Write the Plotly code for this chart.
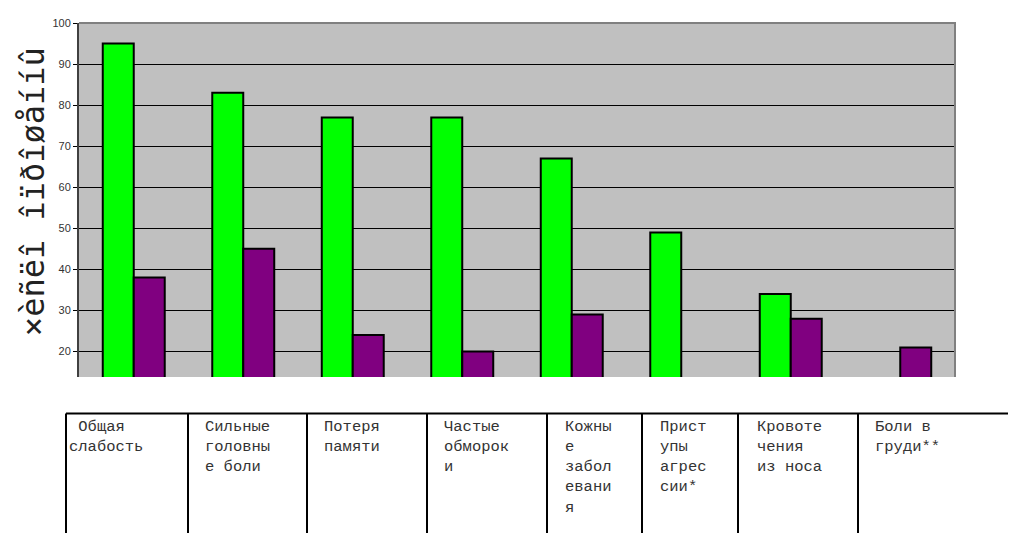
import plotly.graph_objects as go

categories = ["Общая слабость", "Сильные головные боли", "Потеря памяти", "Частые обмороки",
              "Кожные заболевания", "Приступы агрессии*", "Кровотечения из носа", "Боли в груди**"]
table_labels = [" Общая<br>слабость", "Сильные<br>головны<br>е боли", "Потеря<br>памяти",
                "Частые<br>обморок<br>и", "Кожны<br>е<br>забол<br>евани<br>я", "Прист<br>упы<br>агрес<br>сии*",
                "Кровоте<br>чения<br>из носа", "Боли в<br>груди**"]
series_green = [95, 83, 77, 77, 67, 49, 34, None]
series_purple = [38, 45, 24, 20, 29, None, 28, 21]
y_title = "×èñëî îïðîøåííû"
tick_vals = [20, 30, 40, 50, 60, 70, 80, 90, 100]

OFF = 8  # page body margin
W, H = 1016 - OFF, 533 - OFF
L, R, T, B = 79 - OFF, 955 - OFF, 17 - OFF, 377 - OFF
pw, ph = R - L, B - T

def px(x):
    return (x - OFF - L) / pw

def py(y):
    return (B - (y - OFF)) / ph

fig = go.Figure()
fig.add_trace(go.Bar(x=categories, y=series_green, marker=dict(color="#00FF00", line=dict(color="black", width=2)),
                     showlegend=False))
fig.add_trace(go.Bar(x=categories, y=series_purple, marker=dict(color="#800080", line=dict(color="black", width=2)),
                     showlegend=False))

shapes = []
shapes.append(dict(type="path", xref="paper", yref="paper", path="M 0 1 L 1 1 L 1 0",
                   line=dict(color="#808080", width=2), layer="above"))
col_lines = [66, 188, 307, 427, 547, 642, 738, 858]
table_top = 414
shapes.append(dict(type="line", xref="paper", yref="paper", x0=px(66), x1=px(1030), y0=py(table_top), y1=py(table_top),
                   line=dict(color="black", width=2)))
for cx in col_lines:
    shapes.append(dict(type="line", xref="paper", yref="paper", x0=px(cx), x1=px(cx), y0=py(table_top), y1=py(545),
                       line=dict(color="black", width=2)))

annotations = []
text_x = [67, 203, 322, 442, 563, 658, 755, 873]
for tx, lab in zip(text_x, table_labels):
    annotations.append(dict(x=px(tx), y=py(417), xref="paper", yref="paper", text=lab, showarrow=False,
                            xanchor="left", yanchor="top", align="left",
                            font=dict(family="Liberation Mono", size=15.5, color="#333333")))
annotations.append(dict(x=px(33), y=py(189), xref="paper", yref="paper", text=y_title, showarrow=False,
                        textangle=-90, xanchor="center", yanchor="middle",
                        font=dict(family="DejaVu Sans Mono", size=32, color="#222222")))

fig.update_layout(
    width=W, height=H,
    margin=dict(l=L, r=W - R, t=T, b=H - B),
    paper_bgcolor="white", plot_bgcolor="#C0C0C0",
    barmode="group", bargap=0.434, bargroupgap=0,
    shapes=shapes, annotations=annotations,
    xaxis=dict(showticklabels=False, showgrid=False, ticks="", showline=False, zeroline=False),
    yaxis=dict(range=[13.8, 100], tickvals=tick_vals, showgrid=True, gridcolor="black", gridwidth=1,
               showline=True, linecolor="#404040", linewidth=2, ticks="outside", ticklen=4,
               tickcolor="black", zeroline=False,
               tickfont=dict(family="Liberation Sans", size=11, color="#333333")),
)

fig.write_html("out.html")
